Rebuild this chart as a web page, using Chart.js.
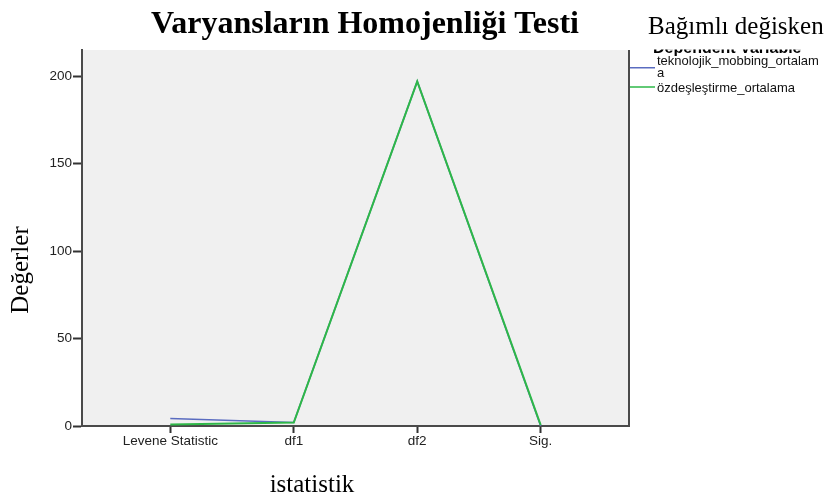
<!DOCTYPE html>
<html>
<head>
<meta charset="utf-8">
<script src="https://cdn.jsdelivr.net/npm/chart.js@4/dist/chart.umd.min.js"></script>
<style>
html,body{margin:0;padding:0;background:#fff;}
#wrap{width:834px;height:499px;position:relative;}
</style>
</head>
<body>
<div id="wrap"><canvas id="c" width="834" height="499"></canvas></div>
<script>
const categories = ['Levene Statistic', 'df1', 'df2', 'Sig.'];
const teknolojikValues = [4.3, 2, 197, 0.015];
const ozdeslestirmeValues = [0.8, 2, 197, 0.45];
const seriesNames = ['teknolojik_mobbing_ortalama', 'özdeşleştirme_ortalama'];
const seriesColors = ['#5a6cc0', '#2eb848'];
const yTickValues = [0, 50, 100, 150, 200];
const chartTitle = 'Varyansların Homojenliği Testi';
const legendTitle = 'Bağımlı değisken';
const legendSubTitle = 'Dependent Variable';
const xTitle = 'istatistik';
const yTitle = 'Değerler';

const AREA = {left: 82, top: 50, right: 629, bottom: 426};
const W = 834, H = 499;

function toPoints(vals){ return vals.map((v,i)=>({x:i, y:v})); }

function wrapChars(ctx, text, maxW){
  const lines=[]; let cur='';
  for(const ch of text){
    if(ctx.measureText(cur+ch).width > maxW && cur){ lines.push(cur); cur=ch; }
    else cur+=ch;
  }
  if(cur) lines.push(cur);
  return lines;
}

const decor = {
  id:'decor',
  beforeDraw(chart){
    const {ctx, chartArea:a} = chart;
    ctx.save();
    ctx.fillStyle='#f0f0f0';
    ctx.fillRect(a.left, a.top, a.right-a.left, a.bottom-a.top);
    ctx.restore();
  },
  afterDraw(chart){
    const {ctx, chartArea:a} = chart;
    ctx.save();
    ctx.strokeStyle='#4a4a4a'; ctx.lineWidth=2;
    ctx.beginPath(); ctx.moveTo(a.right, a.top); ctx.lineTo(a.right, a.bottom+1); ctx.stroke();
    ctx.fillStyle='#000';
    ctx.font='bold 32px "Liberation Serif", "Times New Roman", serif';
    ctx.textAlign='center'; ctx.textBaseline='alphabetic';
    ctx.fillText(chartTitle, 365, 33);
    ctx.font='25px "Liberation Serif", "Times New Roman", serif';
    ctx.fillText(xTitle, 312, 492);
    ctx.save();
    ctx.translate(28, 270); ctx.rotate(-Math.PI/2);
    ctx.fillText(yTitle, 0, 0);
    ctx.restore();
    ctx.save();
    ctx.beginPath(); ctx.rect(a.right+1, 49.5, W-a.right, 20); ctx.clip();
    ctx.textAlign='left';
    ctx.font='bold 16px "Liberation Sans", Arial, sans-serif';
    ctx.fillText(legendSubTitle, 653, 53);
    ctx.restore();
    ctx.textAlign='left';
    ctx.font='25px "Liberation Serif", "Times New Roman", serif';
    ctx.fillText(legendTitle, 648, 34);
    ctx.font='13px "Liberation Sans", Arial, sans-serif';
    ctx.textBaseline='middle';
    let y = 61;
    seriesNames.forEach((name, i)=>{
      const lines = wrapChars(ctx, name, 166);
      const lh = 12.5;
      const mid = y + (lines.length-1)*lh/2;
      const ly = mid + (lines.length>1?0.5:-1);
      ctx.strokeStyle = seriesColors[i]; ctx.lineWidth = 1.5;
      ctx.beginPath(); ctx.moveTo(a.right+1, ly); ctx.lineTo(655, ly); ctx.stroke();
      ctx.fillStyle='#111';
      lines.forEach((ln, k)=> ctx.fillText(ln, 657, y + k*lh));
      y += lines.length*lh + 2;
    });
    ctx.restore();
  }
};

new Chart(document.getElementById('c'), {
  type:'line',
  data:{
    datasets:[
      {label: seriesNames[0], data: toPoints(teknolojikValues), borderColor: seriesColors[0], borderWidth:1.6, pointRadius:0, tension:0, order:2},
      {label: seriesNames[1], data: toPoints(ozdeslestirmeValues), borderColor: seriesColors[1], borderWidth:2, pointRadius:0, tension:0, order:1}
    ]
  },
  options:{
    responsive:false, animation:false,
    layout:{padding:{top:AREA.top, right:W-AREA.right, left:0, bottom:0}},
    plugins:{legend:{display:false}, title:{display:false}, tooltip:{enabled:false}},
    scales:{
      x:{
        type:'linear', min:-0.715, max:3.715,
        afterBuildTicks(s){ s.ticks = categories.map((c,i)=>({value:i})); },
        afterFit(s){ s.height = H-AREA.bottom; },
        ticks:{callback:(v)=>categories[v] ?? '', color:'#222', padding:0, autoSkip:false, maxRotation:0,
          font:{family:'"Liberation Sans", Arial, sans-serif', size:13.5}},
        grid:{drawOnChartArea:false, drawTicks:true, tickLength:7, tickColor:'#333', tickWidth:2},
        border:{display:true, color:'#4a4a4a', width:2}
      },
      y:{
        min:0, max:215,
        afterBuildTicks(s){ s.ticks = yTickValues.map(v=>({value:v})); },
        afterFit(s){ s.width = AREA.left; },
        ticks:{color:'#222', padding:1,
          font:{family:'"Liberation Sans", Arial, sans-serif', size:13.5}},
        grid:{drawOnChartArea:false, drawTicks:true, tickLength:9, tickColor:'#333', tickWidth:2},
        border:{display:true, color:'#4a4a4a', width:2}
      }
    }
  },
  plugins:[decor]
});
</script>
</body>
</html>
